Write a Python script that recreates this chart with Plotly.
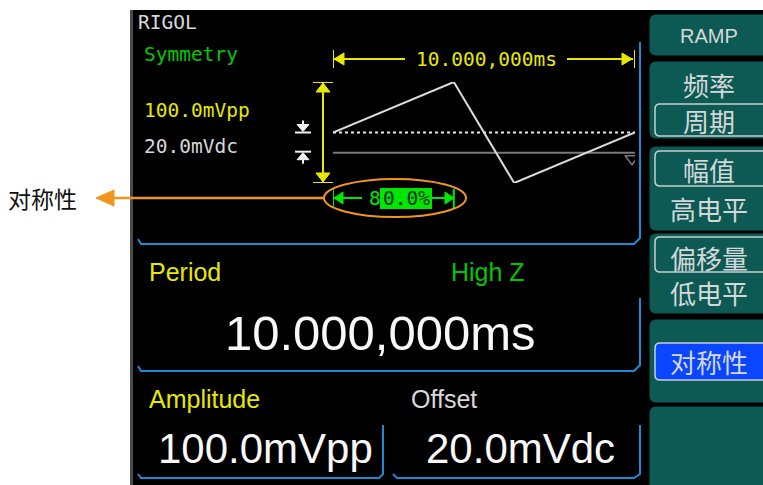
import plotly.graph_objects as go

# ---------------- data ----------------
ramp_t_ms = [0, 4, 6, 10]          # ramp vertices in time (one period)
ramp_mV = [20, 70, -30, 20]        # offset 20 mV, amplitude 100 mVpp, symmetry 80 %
offset_mV = 20
ground_mV = 0
period_ms = 10
symmetry_pct = 80.0
period_label = "10.000,000ms"
amplitude_label = "100.0mVpp"
offset_label = "20.0mVdc"
small_amp_label = "100.0mVpp"
small_off_label = "20.0mVdc"
menu_labels = ["RAMP", "频率", "周期", "幅值", "高电平", "偏移量", "低电平", "对称性"]
callout_label = "对称性"

W, H = 763, 485

# ---------------- colours / fonts ----------------
BLUE = "#1d8ad6"
YEL = "#e8e800"
GRN = "#00c800"
BGRN = "#00e600"
ORG = "#f0961e"
TEAL = "#0d5a55"
MONO = "DejaVu Sans Mono"
SANS = "Liberation Sans, Arial"
CJK = "Noto Sans CJK SC"

fig = go.Figure()

# waveform on its own axes (x2/y2)
X0, X1 = 333, 635      # pixel span of one period
Y0, Y1 = 82, 183       # pixel span of +70 .. -30 mV
fig.add_trace(go.Scatter(x=[0, period_ms], y=[ground_mV, ground_mV], xaxis="x2", yaxis="y2",
                         mode="lines", line=dict(color="#7a7a7a", width=2), hoverinfo="skip"))
fig.add_trace(go.Scatter(x=[0, period_ms], y=[offset_mV, offset_mV], xaxis="x2", yaxis="y2",
                         mode="lines", line=dict(color="#e8e8e8", width=2, dash="dot"), hoverinfo="skip"))
fig.add_trace(go.Scatter(x=ramp_t_ms, y=ramp_mV, xaxis="x2", yaxis="y2",
                         mode="lines", line=dict(color="#dcdcdc", width=2), hoverinfo="skip"))
fig.add_trace(go.Scatter(x=[period_ms - 0.1], y=[ground_mV - 6], xaxis="x2", yaxis="y2",
                         mode="markers", marker=dict(symbol="triangle-down-open", size=12,
                                                     color="#7a7a7a", line=dict(width=1.5)),
                         hoverinfo="skip"))

shapes = []

def rect(x0, y0, x1, y1, fill, line=None, lw=0):
    shapes.append(dict(type="rect", xref="x", yref="y", x0=x0, y0=y0, x1=x1, y1=y1,
                       fillcolor=fill, line=dict(color=line or fill, width=lw), layer="below"))

def path(d, color, width=2, fill=None, xref="x", yref="y"):
    s = dict(type="path", xref=xref, yref=yref, path=d, line=dict(color=color, width=width))
    if fill:
        s["fillcolor"] = fill
    shapes.append(s)

def line(x0, y0, x1, y1, color, width=2, xref="x", yref="y", dash=None):
    ln = dict(color=color, width=width)
    if dash:
        ln["dash"] = dash
    shapes.append(dict(type="line", xref=xref, yref=yref, x0=x0, y0=y0, x1=x1, y1=y1, line=ln))

def rrect_path(x0, y0, x1, y1, r):
    return (f"M {x0+r} {y0} L {x1-r} {y0} Q {x1} {y0} {x1} {y0+r} L {x1} {y1-r} "
            f"Q {x1} {y1} {x1-r} {y1} L {x0+r} {y1} Q {x0} {y1} {x0} {y1-r} "
            f"L {x0} {y0+r} Q {x0} {y0} {x0+r} {y0} Z")

# screen background
rect(130, 10, W + 5, H + 5, "#000000")
rect(130, 10, 133, H + 5, "#4a4a4a")

# right menu buttons
for (y0, y1) in [(15, 55), (62, 138), (147, 230), (234, 313), (320, 402), (407, 492)]:
    path(rrect_path(650, y0, 775, y1, 6), TEAL, 1, fill=TEAL)
# option boxes
for (y0, y1) in [(104, 136), (151, 186), (237, 272)]:
    path(rrect_path(655, y0, 780, y1, 5), "#c8d0d0", 1.5)
path(rrect_path(655, 343, 780, 380, 5), "#c8d0d0", 1.5, fill="#0a46ff")

# blue panel borders
path("M 138 239 L 141 244 L 634 244 L 640 238 L 640 42", BLUE, 2)
path("M 138 366 L 141 371 L 634 371 L 640 365 L 640 298", BLUE, 2)
path("M 138 474 L 141 478 L 379 478 L 383 474 L 383 425", BLUE, 2)
path("M 393 474 L 397 478 L 634 478 L 640 474 L 640 425", BLUE, 2)

# period dimension arrow (top, yellow)
PY = 59
line(0, 50, 0, 68, YEL, 2, xref="x2")
line(period_ms, 50, period_ms, 68, YEL, 2, xref="x2")
line(X0, PY, 405, PY, YEL, 2)
line(567, PY, X1 - 2, PY, YEL, 2)
path(f"M {X0+1} {PY} L {X0+11} {PY-6} L {X0+11} {PY+6} Z", YEL, 1, fill=YEL)
path(f"M {X1-3} {PY} L {X1-13} {PY-6} L {X1-13} {PY+6} Z", YEL, 1, fill=YEL)

# amplitude dimension arrow (vertical, yellow)
AX = 323
line(AX, max(ramp_mV), AX, min(ramp_mV), YEL, 2, yref="y2")
line(AX - 10, max(ramp_mV), AX + 10, max(ramp_mV), YEL, 2, yref="y2")
line(AX - 10, min(ramp_mV), AX + 10, min(ramp_mV), YEL, 2, yref="y2")
path(f"M {AX} {Y0+1} L {AX-7} {Y0+10} L {AX+7} {Y0+10} Z", YEL, 1, fill=YEL)
path(f"M {AX} {Y1-1} L {AX-7} {Y1-10} L {AX+7} {Y1-10} Z", YEL, 1, fill=YEL)

# offset / ground markers (white)
MX = 303
ym = Y0 + (70 - offset_mV) * (Y1 - Y0) / 100
yg = Y0 + (70 - ground_mV) * (Y1 - Y0) / 100
line(MX - 8, ym, MX + 8, ym, "#f0f0f0", 2)
path(f"M {MX} {ym-1} L {MX-6} {ym-8} L {MX+6} {ym-8} Z", "#f0f0f0", 1, fill="#f0f0f0")
line(MX, ym - 12, MX, ym - 8, "#f0f0f0", 2)
line(MX - 8, yg - 1, MX + 8, yg - 1, "#f0f0f0", 2)
path(f"M {MX} {yg} L {MX-6} {yg+7} L {MX+6} {yg+7} Z", "#f0f0f0", 1, fill="#f0f0f0")
line(MX, yg + 7, MX, yg + 11, "#f0f0f0", 2)

# symmetry dimension arrow (green)
SY = 198
sym_end = ramp_t_ms[1]
line(0, 189, 0, 208, BGRN, 2, xref="x2")
line(sym_end, 189, sym_end, 208, BGRN, 2, xref="x2")
line(X0, SY, 362, SY, BGRN, 2)
line(432, SY, 453, SY, BGRN, 2)
path(f"M {X0+1} {SY} L {X0+10} {SY-6} L {X0+10} {SY+6} Z", BGRN, 1, fill=BGRN)
path(f"M {454} {SY} L {445} {SY-6} L {445} {SY+6} Z", BGRN, 1, fill=BGRN)
rect(380, 188, 432, 209, BGRN)
shapes[-1]["layer"] = "above"

# orange callout
shapes.append(dict(type="circle", xref="x", yref="y", x0=324, y0=179, x1=466, y1=217,
                   line=dict(color=ORG, width=2)))
line(112, SY, 324, SY, ORG, 2.5)
path(f"M 96 {SY} L 114 {SY-8} L 114 {SY+8} Z", ORG, 1, fill=ORG)

annotations = []

def txt(x, y, s, color, size, family, xanchor="left"):
    annotations.append(dict(x=x, y=y, xref="x", yref="y", text=s, showarrow=False,
                            xanchor=xanchor, yanchor="middle",
                            font=dict(color=color, size=size, family=family)))

txt(136, 22, "RIGOL", "#d8d8d8", 19.5, MONO)
txt(142, 54, "Symmetry", GRN, 19.5, MONO)
txt(142, 110, small_amp_label, YEL, 19.5, MONO)
txt(142, 146, small_off_label, "#d8d8d8", 19.5, MONO)
txt(486, PY, period_label, YEL, 19.5, MONO, "center")
txt(367, SY, f"{symmetry_pct:.1f}%"[0], BGRN, 19.5, MONO)
txt(406, SY, f"{symmetry_pct:.1f}%"[1:], "#003000", 19.5, MONO, "center")

txt(147, 272, "Period", YEL, 25, SANS)
txt(449, 272, "High Z", GRN, 25, SANS)
txt(380, 333, period_label, "#f8f8f8", 49, SANS, "center")
txt(147, 399, "Amplitude", YEL, 25, SANS)
txt(409, 399, "Offset", "#d8d8d8", 25, SANS)
txt(265, 448, amplitude_label, "#f8f8f8", 42, SANS, "center")
txt(520, 448, offset_label, "#f8f8f8", 42, SANS, "center")

menu_y = [36, 84, 120, 169, 208, 257, 292, 361]
for lab, y in zip(menu_labels, menu_y):
    txt(709, y, lab, "#d4d8d8", 20 if lab == "RAMP" else 26, SANS if lab == "RAMP" else CJK, "center")

txt(6, SY, callout_label, "#111111", 23, CJK)

fig.update_layout(
    width=W, height=H, margin=dict(l=0, r=0, t=0, b=0),
    paper_bgcolor="white", plot_bgcolor="rgba(0,0,0,0)", showlegend=False,
    xaxis=dict(range=[0, W], visible=False, domain=[0, 1]),
    yaxis=dict(range=[H, 0], visible=False, domain=[0, 1]),
    xaxis2=dict(range=[0, period_ms], visible=False, domain=[X0 / W, X1 / W], anchor="y2"),
    yaxis2=dict(range=[-30, 70], visible=False, domain=[(H - Y1) / H, (H - Y0) / H], anchor="x2"),
    shapes=shapes, annotations=annotations,
)

fig.write_html("out.html", config={"displayModeBar": False},
               post_script="document.body.style.margin='0';")
